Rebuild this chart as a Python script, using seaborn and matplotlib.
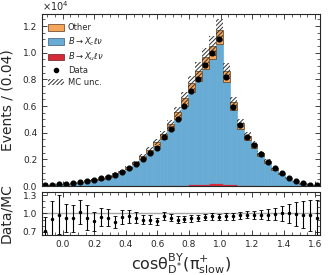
import numpy as np
import pandas as pd
import matplotlib
matplotlib.use("Agg")
import matplotlib.pyplot as plt
import seaborn as sns
from matplotlib.patches import Patch
from matplotlib.lines import Line2D

# ---- data (events per bin) ----
bin_lo, bin_hi, n_bins = -0.13, 1.63, 40
data = [50, 75, 130, 150, 230, 320, 400, 450, 580, 700, 850, 1080, 1360, 1660,
        2000, 2450, 2850, 3700, 4300, 5000, 6000, 7100, 8050, 9060, 9980, 11000,
        8170, 5960, 4580, 3700, 3070, 2390, 1830, 1340, 980, 630, 380, 200, 100, 50]
xc = [63, 75, 121, 148, 228, 286, 391, 470, 561, 685, 897, 1042, 1294, 1610,
      2004, 2452, 2952, 3494, 4144, 4980, 5897, 6898, 7728, 8594, 9359, 10448,
      7666, 5578, 4199, 3369, 2797, 2188, 1683, 1216, 886, 570, 349, 186, 94, 49]
other = [6, 7, 12, 15, 22, 28, 39, 47, 56, 68, 89, 104, 129, 160, 200, 245, 295,
         350, 416, 500, 593, 695, 780, 868, 945, 1050, 774, 564, 425, 340, 282,
         220, 168, 122, 88, 57, 35, 18, 9, 5]
xu = [0, 0, 0, 0, 0, 0, 0, 0, 0, 0, 2, 4, 7, 10, 16, 23, 33, 46, 60, 80, 100,
      127, 152, 178, 196, 202, 160, 128, 96, 71, 51, 32, 19, 12, 6, 3, 0, 0, 0, 0]
mc_unc = [5, 6, 9, 11, 17, 22, 30, 36, 43, 53, 69, 80, 100, 125, 155, 190, 230,
          272, 323, 389, 461, 540, 606, 675, 735, 820, 602, 439, 330, 265, 219,
          171, 131, 95, 69, 44, 27, 14, 7, 4]
ratio = [0.72, 0.91, 0.98, 0.92, 0.92, 1.02, 0.93, 0.87, 0.94, 0.93, 0.86, 0.94,
         0.95, 0.93, 0.90, 0.90, 0.87, 0.95, 0.93, 0.90, 0.91, 0.92, 0.93, 0.94,
         0.95, 0.94, 0.95, 0.95, 0.97, 0.98, 0.98, 0.98, 0.98, 0.99, 1.00, 1.00,
         0.99, 0.98, 0.97, 0.92]
ratio_err = [0.22, 0.30, 0.32, 0.23, 0.22, 0.20, 0.20, 0.15, 0.15, 0.14, 0.10,
             0.12, 0.11, 0.09, 0.075, 0.07, 0.055, 0.065, 0.06, 0.055, 0.055,
             0.055, 0.05, 0.05, 0.05, 0.05, 0.05, 0.055, 0.055, 0.06, 0.065,
             0.075, 0.085, 0.10, 0.12, 0.15, 0.19, 0.22, 0.25, 0.30]

edges = np.linspace(bin_lo, bin_hi, n_bins + 1)
centers = 0.5 * (edges[:-1] + edges[1:])
width = edges[1] - edges[0]

C_OTHER, C_XC, C_XU = "#f5a55c", "#68acd5", "#d52a3a"
HATCH = "////////"

sns.set_style("ticks")
plt.rcParams["font.family"] = ["DejaVu Sans"]
plt.rcParams["mathtext.fontset"] = "dejavusans"
plt.rcParams["hatch.linewidth"] = 0.7

fig = plt.figure(figsize=(3.32, 2.75), dpi=100)
ax = fig.add_axes([0.1265, 0.3236, 0.8375, 0.6254])
rax = fig.add_axes([0.1265, 0.145, 0.8375, 0.157], sharex=ax)

df = pd.DataFrame({
    "x": np.concatenate([centers] * 3),
    "w": np.concatenate([xu, xc, other]).astype(float),
    "comp": ["Xu"] * n_bins + ["Xc"] * n_bins + ["Other"] * n_bins,
})
sns.histplot(data=df, x="x", weights="w", hue="comp", bins=[float(e) for e in edges],
             multiple="stack", element="bars", hue_order=["Other", "Xc", "Xu"],
             palette={"Other": C_OTHER, "Xc": C_XC, "Xu": C_XU},
             alpha=1.0, linewidth=0.5, edgecolor="#5a3a1a", legend=False, ax=ax)
# blue / red bars without internal edges
for p in ax.patches:
    fc = p.get_facecolor()[:3]
    if np.allclose(fc, matplotlib.colors.to_rgb(C_XC)):
        p.set_edgecolor(C_XC)
    elif np.allclose(fc, matplotlib.colors.to_rgb(C_XU)):
        p.set_edgecolor(C_XU)

mc = np.array(xc) + np.array(other) + np.array(xu)
unc = np.array(mc_unc, dtype=float)
ax.bar(centers, 2 * unc, bottom=mc - unc, width=width, fill=False,
       hatch=HATCH, edgecolor="0.2", linewidth=0)

ax.errorbar(centers, data, yerr=np.sqrt(data), fmt="o", color="black",
            markersize=3.4, elinewidth=0.8, capsize=0)

ax.set_xlim(bin_lo, bin_hi)
ax.set_ylim(0, 1.29e4)
ax.set_ylabel("Events / (0.04)", fontsize=10)
ax.set_xlabel("")
ax.set_yticks(np.arange(0, 1.21e4, 0.2e4))
ax.yaxis.set_major_formatter(matplotlib.ticker.FuncFormatter(lambda v, p: f"{v / 1e4:.1f}"))
ax.text(0.0, 1.008, r"$\times10^{4}$", transform=ax.transAxes, ha="left",
        va="bottom", fontsize=7)
ax.yaxis.set_minor_locator(matplotlib.ticker.MultipleLocator(500))
ax.xaxis.set_minor_locator(matplotlib.ticker.MultipleLocator(0.05))
ax.tick_params(which="both", direction="in", top=True, right=True, labelsize=6.5)
ax.tick_params(which="major", length=3.5, width=0.6)
ax.tick_params(which="minor", length=2, width=0.5)
ax.tick_params(axis="x", labelbottom=False)

handles = [
    Patch(facecolor=C_OTHER, edgecolor="#5a3a1a", linewidth=0.5, label="Other"),
    Patch(facecolor=C_XC, edgecolor="#3a5a7a", linewidth=0.5, label=r"$B\to X_c\ell\nu$"),
    Patch(facecolor=C_XU, edgecolor="#6a1a1a", linewidth=0.5, label=r"$B\to X_u\ell\nu$"),
    Line2D([0], [0], marker="o", color="black", markersize=3, linestyle="none", label="Data"),
    Patch(facecolor="none", edgecolor="0.2", hatch=HATCH, linewidth=0, label="MC unc."),
]
leg = ax.legend(handles=handles, loc="upper left", frameon=False, fontsize=6,
                handlelength=1.9, handleheight=0.8, handletextpad=0.5,
                labelspacing=0.35, borderaxespad=0.3, bbox_to_anchor=(0.0, 0.98))

# ratio panel
rax.axhline(1.0, color="0.65", linewidth=1.0, zorder=0)
rax.errorbar(centers, ratio, yerr=ratio_err, fmt="o", color="black",
             markersize=1.5, elinewidth=0.8, capsize=1.3, capthick=0.6)
rax.set_ylim(0.645, 1.35)
rax.set_yticks([0.7, 1.0, 1.3])
rax.yaxis.set_minor_locator(matplotlib.ticker.MultipleLocator(0.1))
rax.set_xticks(np.arange(0, 1.61, 0.2))
rax.tick_params(which="both", direction="in", top=True, right=True, labelsize=6.5)
rax.tick_params(which="major", length=3.5, width=0.6)
rax.tick_params(which="minor", length=2, width=0.5)
rax.set_ylabel("Data/MC", fontsize=10)
rax.set_xlabel(r"$\mathrm{cos\theta^{BY}_{D^{*}}(\pi^{+}_{slow})}$", fontsize=11.5, labelpad=2)
rax.yaxis.set_label_coords(-0.105, 0.5)
ax.yaxis.set_label_coords(-0.1, 0.5)

for a in (ax, rax):
    for s in a.spines.values():
        s.set_linewidth(0.8)

fig.savefig("out.png", dpi=100)
